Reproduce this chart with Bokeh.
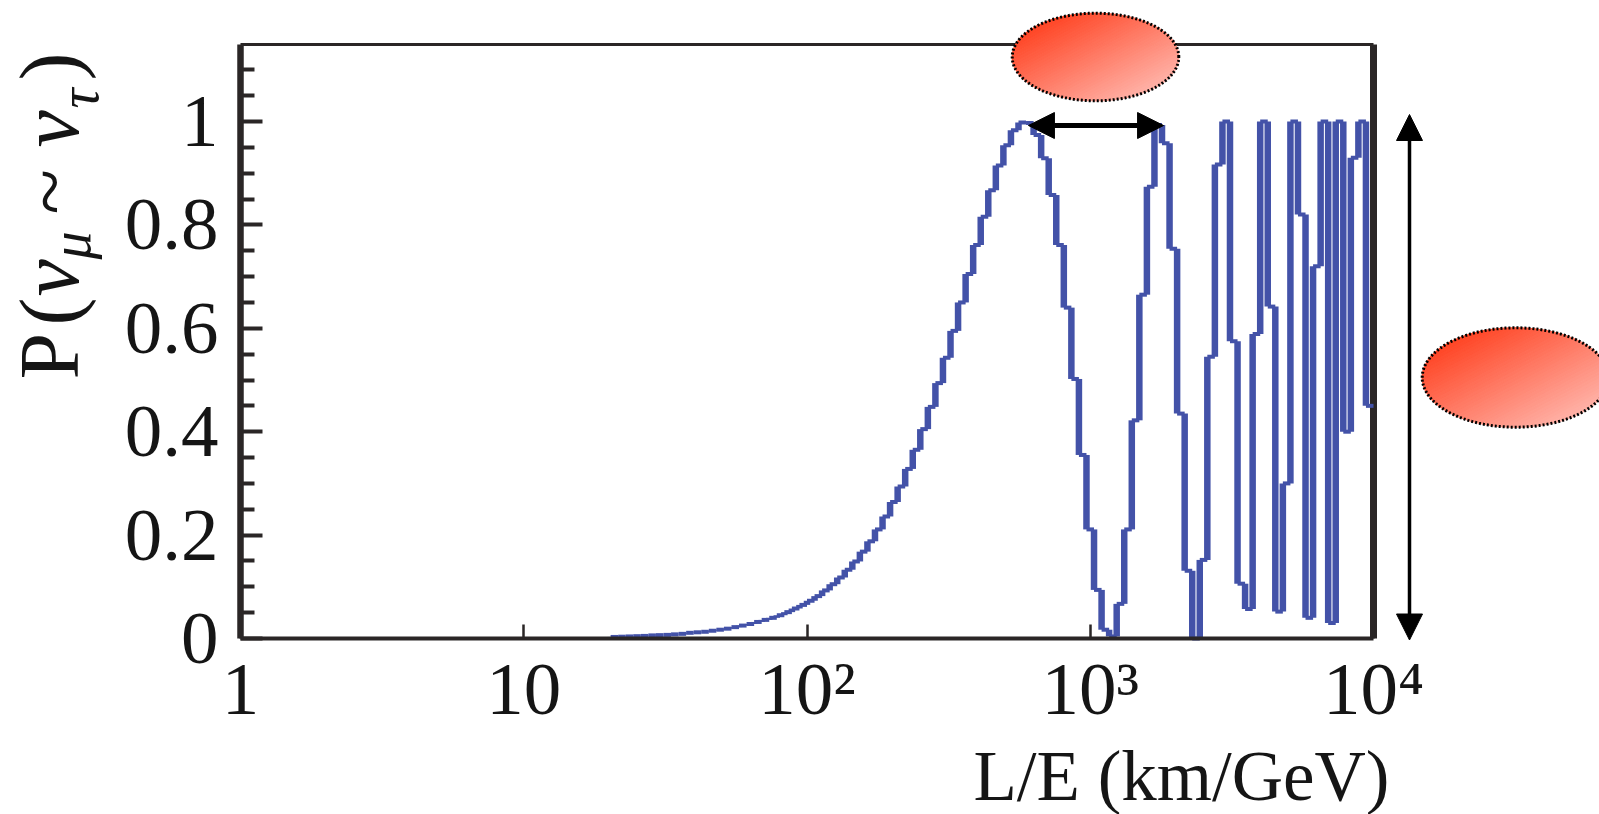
import numpy as np
from bokeh.plotting import figure
from bokeh.models import Range1d, FixedTicker, Arrow, NormalHead, ColumnDataSource
from bokeh.core.properties import value
from bokeh.embed import file_html
from bokeh.resources import INLINE

# ---------------- data ----------------
x_min, x_max = 1.0, 1.0e4
y_top = 1.149
n_bins = 150
# oscillation probability per log-uniform L/E bin
prob = [0.0] * 49 + [
    0.003, 0.0035, 0.004, 0.0045, 0.005, 0.006, 0.0065, 0.007, 0.008, 0.009,
    0.011, 0.012, 0.013, 0.015, 0.017, 0.019, 0.022, 0.025, 0.028, 0.032,
    0.036, 0.040, 0.045, 0.051, 0.058, 0.065, 0.073, 0.082, 0.093, 0.105,
    0.118, 0.133, 0.149, 0.168, 0.188, 0.211, 0.236, 0.264, 0.294, 0.328,
    0.365, 0.405, 0.448, 0.494, 0.543, 0.595, 0.650, 0.705, 0.761, 0.816,
    0.867, 0.915, 0.954, 0.983, 0.998, 0.997, 0.974, 0.929, 0.858, 0.761,
    0.640, 0.502, 0.355, 0.211, 0.094, 0.017, 0.004, 0.067, 0.211, 0.422,
    0.665, 0.874, 0.993, 0.958, 0.754, 0.435, 0.131, 0.0, 0.152, 0.545,
    0.917, 1.0, 0.575, 0.106, 0.057, 0.589, 1.0, 0.642, 0.052, 0.300,
    1.0, 0.820, 0.040, 0.720, 1.0, 0.030, 1.0, 0.400, 0.930, 1.0,
    0.450,
]
x_ticks = [1, 10, 100, 1000, 10000]
x_tick_labels = ["1", "10", "10\u00b2", "10\u00b3", "10\u2074"]
y_ticks = [0.0, 0.2, 0.4, 0.6, 0.8, 1.0]
y_tick_labels = ["0", "0.2", "0.4", "0.6", "0.8", "1"]
y_minor = [0.05, 0.1, 0.15, 0.25, 0.3, 0.35, 0.45, 0.5, 0.55, 0.65, 0.7,
           0.75, 0.85, 0.9, 0.95, 1.05, 1.1]
x_label = "L/E (km/GeV)"
# first and second maximum (period marker)
peak_first, peak_second = 605.0, 1815.0

# ---------------- geometry of the page ----------------
W, H = 1599, 814
FL, FR, FB = 240.0, 1373.0, 638.0       # axis box (px)
DEC = (FR - FL) / np.log10(x_max / x_min)  # px per decade
UNIT = 517.0                             # px per unit probability


def to_data(px, py):
    return 10 ** ((px - FL) / DEC) * x_min, (FB - py) / UNIT


SERIF = "Liberation Serif"
INK = "#2a2626"
BLUE = "#4352a8"
TXT = "#151515"

x0d, y0d = to_data(0, H)
x1d, y1d = to_data(W, 0)
p = figure(width=W, height=H, x_axis_type="log",
           x_range=Range1d(x0d, x1d), y_range=Range1d(y0d, y1d),
           output_backend="svg", toolbar_location=None, min_border=0)
p.grid.visible = False
p.outline_line_color = None
p.background_fill_color = "white"
p.border_fill_color = "white"

# right and top frame lines
p.segment(x0=[x_max], y0=[0], x1=[x_max], y1=[y_top], line_color=INK,
          line_width=7)
p.segment(x0=[x_min], y0=[y_top], x1=[x_max], y1=[y_top], line_color=INK,
          line_width=3)

# histogram outline
edges = np.logspace(np.log10(x_min), np.log10(x_max), n_bins + 1)
vals = np.array(prob)
first = int(np.argmax(vals > 0))
k = np.arange(first, n_bins)
hsrc = ColumnDataSource(dict(x0=edges[k], x1=edges[k + 1], y=vals[k]))
prev = np.concatenate([[0.0], vals[first:n_bins - 1]])
vsrc = ColumnDataSource(dict(x=edges[k], y0=prev, y1=vals[k]))
p.segment(x0="x", y0="y0", x1="x", y1="y1", source=vsrc,
          line_color=BLUE, line_width=6.5)
p.segment(x0="x0", y0="y", x1="x1", y1="y", source=hsrc,
          line_color=BLUE, line_width=4)

# axes (kept at the data box edges)
xa = p.xaxis[0]
xa.fixed_location = 0
xa.bounds = (x_min, x_max)
xa.ticker = FixedTicker(ticks=x_ticks, minor_ticks=[])
xa.major_label_overrides = {t: s for t, s in zip(x_ticks, x_tick_labels)}
xa.major_tick_in = 14
xa.major_tick_out = 0
xa.major_tick_line_width = 2.5
xa.major_tick_line_color = INK
xa.axis_line_width = 4
xa.axis_line_color = INK
xa.major_label_text_font = SERIF
xa.major_label_text_font_size = "75px"
xa.major_label_text_color = TXT
xa.major_label_standoff = 8

ya = p.yaxis[0]
ya.fixed_location = x_min
ya.bounds = (0, y_top)
ya.ticker = FixedTicker(ticks=y_ticks, minor_ticks=y_minor)
ya.major_label_overrides = {t: s for t, s in zip(y_ticks, y_tick_labels)}
ya.major_tick_in = 22
ya.major_tick_out = 0
ya.minor_tick_in = 14
ya.minor_tick_out = 0
ya.major_tick_line_width = 4
ya.minor_tick_line_width = 4
ya.major_tick_line_color = INK
ya.minor_tick_line_color = INK
ya.axis_line_width = 6.5
ya.axis_line_color = INK
ya.major_label_text_font = SERIF
ya.major_label_text_font_size = "75px"
ya.major_label_text_color = TXT
ya.major_label_standoff = 22

# y-axis title built from pieces (rotated); anchor x already compensated
ylab = [
    ("P", 49, 379, "84px", "normal"),
    ("(", 49, 325, "84px", "normal"),
    ("\u03bd", 49, 296, "84px", "italic"),
    ("\u03bc", 70, 259, "56px", "italic"),
    ("~", 49, 214, "84px", "normal"),
    ("\u03bd", 49, 147, "84px", "italic"),
    ("\u03c4", 78, 108, "56px", "italic"),
    (")", 49, 80, "84px", "normal"),
]
for txt, bx, sy, fs, st in ylab:
    dx, dy = to_data(bx, sy)
    p.text(x=[dx], y=[dy], text=[txt], angle=np.pi / 2,
           text_font=value(SERIF), text_font_size=value(fs),
           text_font_style=st, text_align="left",
           text_baseline="alphabetic", text_color=TXT)

lx, ly = to_data(1389, 775)
p.text(x=[lx], y=[ly], text=[x_label], text_font=value(SERIF),
       text_font_size=value("71px"), text_align="right",
       text_baseline="alphabetic", text_color=TXT)

# gradient ellipses
C0 = np.array([255, 46, 9])
C1 = np.array([255, 200, 194])


def ellipse(lcx, cy, a, b, n=40):
    w = np.array([1.0, -1.0]) / np.sqrt(2)
    nv = np.array([1.0, 1.0]) / np.sqrt(2)
    cuts = np.linspace(-1, 1, n + 1)
    xs, ys, cols = [], [], []
    for s0, s1 in zip(cuts[:-1], cuts[1:]):
        s = np.linspace(s0, s1, 6)
        r = np.sqrt(np.clip(1 - s ** 2, 0, None))
        ss = np.concatenate([s, s[::-1]])
        rr = np.concatenate([r, -r[::-1]])
        u = ss * w[0] + rr * nv[0]
        v = ss * w[1] + rr * nv[1]
        t = (0.5 * (s0 + s1) / np.sqrt(2) + 1) / 2
        c = C0 + (C1 - C0) * t
        cols.append("#%02x%02x%02x" % tuple(int(round(q)) for q in c))
        xs.append(list(10 ** (lcx + a * u)))
        ys.append(list(cy + b * v))
    p.patches(xs=xs, ys=ys, fill_color=cols, line_color=cols, line_width=1.2)
    th = np.linspace(0, 2 * np.pi, 240)
    p.line(x=10 ** (lcx + a * np.cos(th)), y=cy + b * np.sin(th),
           line_color="black", line_width=3, line_dash="2 2")


def ell_params(left, right, top, bottom):
    (xl, yb), (xr, yt) = to_data(left, bottom), to_data(right, top)
    lxl, lxr = np.log10(xl), np.log10(xr)
    return (lxl + lxr) / 2, (yb + yt) / 2, (lxr - lxl) / 2, (yt - yb) / 2


ellipse(*ell_params(1011.7, 1178.3, 12.7, 100.3))
ellipse(*ell_params(1421.7, 1608.3, 327.3, 426.7))

# arrows
ay = (FB - 125) / UNIT
p.add_layout(Arrow(x_start=peak_first, y_start=ay, x_end=peak_second, y_end=ay,
                   line_width=5, line_color="black",
                   start=NormalHead(size=26, fill_color="black", line_color="black"),
                   end=NormalHead(size=26, fill_color="black", line_color="black")))
rx, ry_top = to_data(1409, 114)
_, ry_bot = to_data(1409, 639.5)
p.add_layout(Arrow(x_start=rx, y_start=ry_bot, x_end=rx, y_end=ry_top,
                   line_width=3.5, line_color="black",
                   start=NormalHead(size=26, fill_color="black", line_color="black"),
                   end=NormalHead(size=26, fill_color="black", line_color="black")))

open("out.html", "w").write(file_html(p, INLINE))
